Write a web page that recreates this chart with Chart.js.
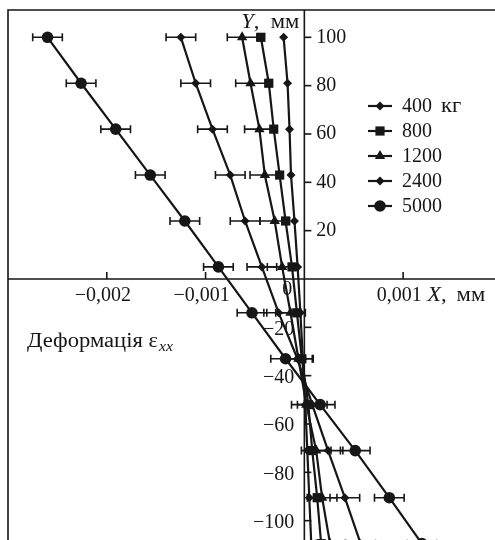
<!DOCTYPE html>
<html>
<head>
<meta charset="utf-8">
<script src="https://cdn.jsdelivr.net/npm/chart.js@4.4.1/dist/chart.umd.min.js"></script>
<style>
  html, body { margin: 0; padding: 0; background: #fff; }
  #wrap { width: 495px; height: 540px; position: relative; }
</style>
</head>
<body>
<div id="wrap"><canvas id="chart"></canvas></div>
<script>
'use strict';

/* ── DATA ── */
const depthY     = [100, 81, 62, 43, 24, 5, -14, -33, -52, -71, -90.5, -109.5];
const loadLabels = ['400 кг', '800', '1200', '2400', '5000'];

const strain400  = [-0.00021, -0.00017, -0.00015, -0.000135, -0.0001, -0.000068, -0.00004, -0.000015, 0.00001, 0.00003, 0.00005, 0.00007];
const strain800  = [-0.00044, -0.00036, -0.00031, -0.00025, -0.00019, -0.000125, -0.000075, -0.000025, 0.00004, 0.00008, 0.00013, 0.00017];
const strain1200 = [-0.00063, -0.000545, -0.000455, -0.0004, -0.0003, -0.000225, -0.00014, -0.00006, 0.00002, 0.00012, 0.00018, 0.00026];
const strain2400 = [-0.00125, -0.0011, -0.00093, -0.00075, -0.0006, -0.00043, -0.00026, -0.00007, 0.00008, 0.00024, 0.00041, 0.00057];
const strain5000 = [-0.0026, -0.00226, -0.00191, -0.00156, -0.00121, -0.00087, -0.00053, -0.00019, 0.00016, 0.000515, 0.00086, 0.00119];

// half-width of the horizontal error bars, per load
const strainErr  = [0, 0, 0.00015, 0.00015, 0.00015];

const yTickValues = [100, 80, 60, 40, 20, -20, -40, -60, -80, -100];
const xTickValues = [-0.002, -0.001, 0.001];

/* ── STYLE ── */
const markerStyles = ['rectRot', 'rect', 'triangle', 'rectRot', 'circle'];
const markerRadius = [4.5, 6.5, 6, 4.5, 5.8];
const INK = '#161616';
const SERIF = '"Liberation Serif", "DejaVu Serif", serif';
const WIDEN = 1.13;   // the original typeface is wider than Times

const seriesValues = [strain400, strain800, strain1200, strain2400, strain5000];

function fmtNum(v) {
  return (v < 0 ? '\u2212' : '') + String(Math.abs(v)).replace('.', ',');
}

// left-aligned text, stretched horizontally; returns drawn width
function wideText(ctx, txt, x, y) {
  ctx.save();
  ctx.translate(x, y);
  ctx.scale(WIDEN, 1);
  ctx.textAlign = 'left';
  ctx.fillText(txt, 0, 0);
  ctx.restore();
  return ctx.measureText(txt).width * WIDEN;
}

/* ── AXES, LABELS, ERROR BARS, LEGEND ── */
const decorPlugin = {
  id: 'decor',
  afterDatasetsDraw(chart) {
    const ctx = chart.ctx;
    const area = chart.chartArea;
    const xs = chart.scales.x;
    const ys = chart.scales.y;
    const x0 = xs.getPixelForValue(0);
    const y0 = ys.getPixelForValue(0);

    ctx.save();
    ctx.strokeStyle = INK;
    ctx.fillStyle = INK;

    // frame (only the top and left edges fall inside the picture)
    ctx.lineWidth = 1.6;
    ctx.beginPath();
    ctx.moveTo(area.left, chart.height);
    ctx.lineTo(area.left, area.top);
    ctx.lineTo(chart.width, area.top);
    ctx.stroke();

    // axes through the origin
    ctx.lineWidth = 1.6;
    ctx.beginPath();
    ctx.moveTo(x0, area.top);
    ctx.lineTo(x0, chart.height);
    ctx.moveTo(area.left, y0);
    ctx.lineTo(chart.width, y0);
    ctx.stroke();

    // error bars
    ctx.lineWidth = 1.6;
    seriesValues.forEach((vals, si) => {
      const e = strainErr[si];
      if (!e) return;
      vals.forEach((v, i) => {
        const py = ys.getPixelForValue(depthY[i]);
        const pl = xs.getPixelForValue(v - e);
        const pr = xs.getPixelForValue(v + e);
        ctx.beginPath();
        ctx.moveTo(pl, py); ctx.lineTo(pr, py);
        ctx.moveTo(pl, py - 4); ctx.lineTo(pl, py + 4);
        ctx.moveTo(pr, py - 4); ctx.lineTo(pr, py + 4);
        ctx.stroke();
      });
    });

    // y ticks and labels
    ctx.font = '20px ' + SERIF;
    ctx.textBaseline = 'middle';
    yTickValues.forEach(v => {
      const py = ys.getPixelForValue(v);
      ctx.beginPath();
      ctx.moveTo(x0, py); ctx.lineTo(x0 + 7, py);
      ctx.stroke();
      if (v > 0) {
        ctx.textAlign = 'left';
        ctx.fillText(fmtNum(v), x0 + 12, py);
      } else {
        ctx.textAlign = 'right';
        ctx.fillText(fmtNum(v), x0 - 10, py + 2);
      }
    });

    // x ticks and labels
    ctx.textBaseline = 'alphabetic';
    xTickValues.forEach(v => {
      const px = xs.getPixelForValue(v);
      ctx.beginPath();
      ctx.moveTo(px, y0); ctx.lineTo(px, y0 - 7);
      ctx.stroke();
      ctx.textAlign = 'center';
      ctx.fillText(fmtNum(v), px - 4, y0 + 22);
    });

    // origin "0"
    ctx.textAlign = 'center';
    ctx.fillText('0', x0 - 17, y0 + 16);

    // x axis title "X, мм" after the last tick label
    let tx = xs.getPixelForValue(xTickValues[xTickValues.length - 1]) + 24;
    ctx.font = 'italic 20px ' + SERIF;
    tx += wideText(ctx, 'X,', tx, y0 + 22) + 10;
    ctx.font = '20px ' + SERIF;
    wideText(ctx, 'мм', tx, y0 + 22);

    // y axis title "Y, мм" left of the axis top
    ctx.font = 'italic 20px ' + SERIF;
    const wY = ctx.measureText('Y').width * WIDEN;
    ctx.font = '20px ' + SERIF;
    const wRest = ctx.measureText(',  мм').width * WIDEN;
    const ty = x0 - 5 - wY - wRest;
    ctx.font = 'italic 20px ' + SERIF;
    wideText(ctx, 'Y', ty, 28);
    ctx.font = '20px ' + SERIF;
    wideText(ctx, ',  мм', ty + wY, 28);

    // annotation "Деформація ε_xx"
    ctx.font = '20px ' + SERIF;
    let ax = 27;
    const ab = 347;
    ax += wideText(ctx, 'Деформація ε', ax, ab) + 1;
    ctx.font = 'italic 14px ' + SERIF;
    wideText(ctx, 'xx', ax, ab + 4);

    // legend
    ctx.font = '20px ' + SERIF;
    ctx.textAlign = 'left';
    ctx.textBaseline = 'middle';
    loadLabels.forEach((lab, i) => {
      const ly = 106 + i * 25;
      ctx.lineWidth = 2.2;
      ctx.beginPath();
      ctx.moveTo(368, ly); ctx.lineTo(392, ly);
      ctx.stroke();
      Chart.helpers.drawPoint(ctx, {
        pointStyle: markerStyles[i], radius: markerRadius[i], rotation: 0, borderWidth: 0
      }, 380, ly);
      if (i === 0) {
        const w = ctx.measureText('400 ').width;
        ctx.fillText('400 ', 402, ly + 1);
        wideText(ctx, 'кг', 402 + w + 4, ly + 1);
      } else {
        ctx.fillText(lab, 402, ly + 1);
      }
    });

    ctx.restore();
  }
};

/* ── CHART ── */
const datasets = seriesValues.map((vals, si) => ({
  label: loadLabels[si],
  data: vals.map((v, i) => ({ x: v, y: depthY[i] })),
  borderColor: INK,
  backgroundColor: INK,
  borderWidth: 2.2,
  pointStyle: markerStyles[si],
  pointRadius: markerRadius[si],
  pointBorderWidth: 0,
  pointBackgroundColor: INK,
  tension: 0,
  showLine: true,
  fill: false
}));

new Chart(document.getElementById('chart'), {
  type: 'line',
  data: { datasets },
  plugins: [decorPlugin],
  options: {
    responsive: true,
    maintainAspectRatio: false,
    animation: false,
    layout: { autoPadding: false, padding: { left: 8, top: 10, right: 0, bottom: 0 } },
    scales: {
      x: { type: 'linear', min: -0.003, max: 0.00193, display: false },
      y: { type: 'linear', min: -108, max: 111.3, display: false }
    },
    plugins: {
      legend: { display: false },
      tooltip: { enabled: false }
    }
  }
});
</script>
</body>
</html>
